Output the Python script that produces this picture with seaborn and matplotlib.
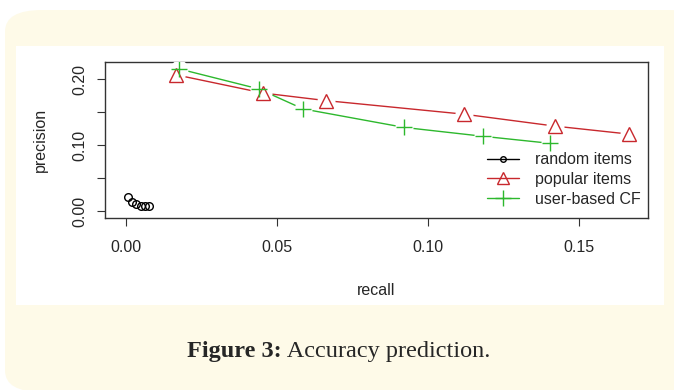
import numpy as np
import pandas as pd
import seaborn as sns
import matplotlib.pyplot as plt
from matplotlib.patches import FancyBboxPatch, Rectangle
from matplotlib.lines import Line2D

# values
random_recall = [0.0009, 0.0021, 0.0035, 0.0051, 0.0065, 0.0079]
random_prec = [0.022, 0.0136, 0.011, 0.0085, 0.008, 0.0076]

popular_recall = [0.0168, 0.0456, 0.0664, 0.1122, 0.1422, 0.1666]
popular_prec = [0.2065, 0.179, 0.1676, 0.147, 0.129, 0.117]

ubcf_recall = [0.0177, 0.0441, 0.0588, 0.0923, 0.1184, 0.1405]
ubcf_prec = [0.2156, 0.1853, 0.155, 0.127, 0.1136, 0.103]

series_names = ["random items", "popular items", "user-based CF"]
series_colors = ["black", "#c8282d", "#2db82d"]
series_markers = ["o", "^", "+"]

df = pd.concat([
    pd.DataFrame({"recall": random_recall, "precision": random_prec, "method": series_names[0]}),
    pd.DataFrame({"recall": popular_recall, "precision": popular_prec, "method": series_names[1]}),
    pd.DataFrame({"recall": ubcf_recall, "precision": ubcf_prec, "method": series_names[2]}),
], ignore_index=True)

sns.set_style("white")
plt.rcParams["font.family"] = ["Liberation Sans", "DejaVu Sans"]

fig = plt.figure(figsize=(6.74, 3.90), dpi=100)
W, H = 674, 390
fs = 11.5

# page background: cream rounded box with white panel
fig.patches.append(FancyBboxPatch((5 / W, -2 / H), 700 / W, 382 / H,
                                  boxstyle="round,pad=0,rounding_size=0.055",
                                  transform=fig.transFigure, facecolor="#fefae8",
                                  edgecolor="none", zorder=0))
fig.patches.append(Rectangle((16 / W, 1 - 305 / H), (664 - 16) / W, (305 - 46) / H,
                             transform=fig.transFigure, facecolor="white",
                             edgecolor="none", zorder=1))

ax = fig.add_axes([105 / W, 1 - 218 / H, (648 - 105) / W, (218 - 62) / H])
ax.set_zorder(5)
ax.set_facecolor("white")

for name, col, mk in zip(series_names, series_colors, series_markers):
    sub = df[df["method"] == name]
    sns.lineplot(data=sub, x="recall", y="precision", sort=False, ax=ax,
                 color=col, lw=1.0, zorder=2, legend=False)
    # white gap around points, like R's type="b"
    ax.plot(sub["recall"], sub["precision"], ls="none", marker="o", ms=13,
            mfc="white", mec="none", zorder=3)

for name, col, mk in zip(series_names, series_colors, series_markers):
    sub = df[df["method"] == name]
    ms = 5.5 if mk == "o" else (10 if mk == "^" else 11)
    ax.plot(sub["recall"], sub["precision"], ls="none", marker=mk, ms=ms,
            mfc="none", mec=col, mew=1.0, zorder=4)

ax.set_xlim(-0.0068, 0.173)
ax.set_ylim(-0.010, 0.226)
ax.set_xticks([0.0, 0.05, 0.10, 0.15])
ax.set_xticklabels(["0.00", "0.05", "0.10", "0.15"], fontsize=fs)
ax.set_yticks([0.0, 0.05, 0.10, 0.15, 0.20])
ax.set_yticklabels(["0.00", "", "0.10", "", "0.20"], fontsize=fs, rotation=90, va="center")
ax.tick_params(axis="both", direction="out", length=6, width=0.8, color="#333333",
               bottom=True, left=True)
ax.tick_params(axis="x", pad=10)
ax.tick_params(axis="y", pad=7)
for s in ax.spines.values():
    s.set_color("#333333")
    s.set_linewidth(1.0)

ax.set_xlabel("recall", fontsize=fs, labelpad=20)
ax.set_ylabel("precision", fontsize=fs, labelpad=17)

handles = [Line2D([], [], color=c, marker=m, mfc="none", mec=c, lw=1.0,
                  ms=(4 if m == "o" else (8 if m == "^" else 11)))
           for c, m in zip(series_colors, series_markers)]
ax.legend(handles, series_names, loc="lower right", frameon=False, fontsize=fs,
          handlelength=2.0, handletextpad=1.0, labelspacing=0.3,
          bbox_to_anchor=(1.013, -0.02))

cap = fig.text(187 / W, 1 - 357 / H, "Figure 3:", ha="left", va="baseline",
               fontsize=17.5, fontweight="bold", family="Liberation Serif")
ax.annotate(" Accuracy prediction.", xy=(1, 0), xycoords=cap, ha="left", va="bottom",
            fontsize=17.5, family="Liberation Serif", annotation_clip=False)

fig.savefig("out.png", dpi=100)
